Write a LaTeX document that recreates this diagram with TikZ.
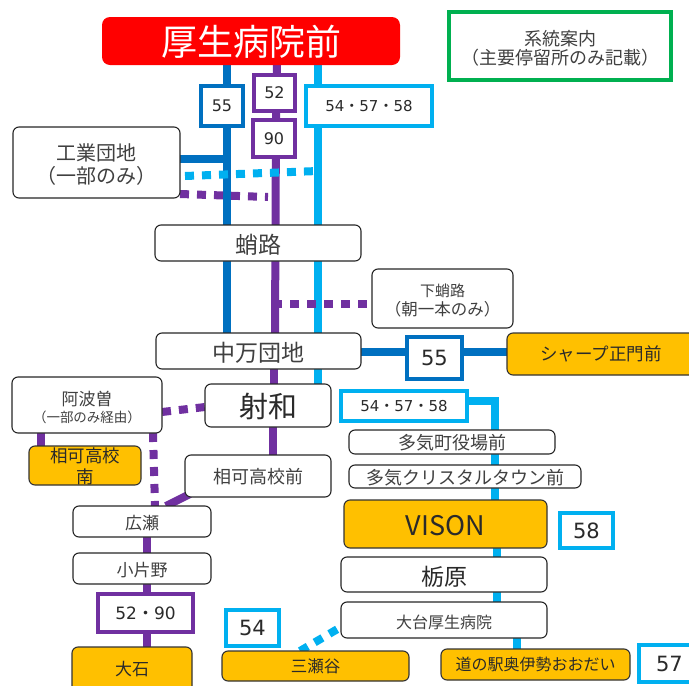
\documentclass[tikz,border=0pt]{standalone}
\usepackage{fontspec}
\setmainfont{Noto Sans CJK JP}
\newfontfamily\numfont{DejaVu Sans}
\usetikzlibrary{backgrounds}
\definecolor{cblue}{HTML}{0070C0}
\definecolor{cpurple}{HTML}{7030A0}
\definecolor{ccyan}{HTML}{00B0F0}
\definecolor{corange}{HTML}{FFC000}
\definecolor{cgreen}{HTML}{00B050}
\definecolor{ctext}{HTML}{404040}
\definecolor{cdark}{HTML}{2A2A2A}
\newcommand{\fs}[1]{\fontsize{#1}{#1}\selectfont}
\newcommand{\dt}{{\rmfamily ・}}
\newcommand{\dk}{\color{cdark}}
\newcommand{\tagfont}[1]{\numfont\color{cdark}\fs{#1}}
\newcommand{\bx}[8][-2]{%
  \pgfmathsetmacro{\bw}{#6-#4}\pgfmathsetmacro{\bh}{#7-#5}%
  \pgfmathsetmacro{\bcx}{(#6+#4)/2}\pgfmathsetmacro{\bcy}{(#7+#5)/2}%
  \node[#3,minimum width=\bw pt,minimum height=\bh pt,
        label={[yshift=#1pt]center:{#8}}] (#2) at (\bcx,\bcy) {};}
\tikzset{
  x=1pt,y=-1pt,
  every label/.style={inner sep=0pt,outer sep=0pt,align=center,text=ctext},
  base/.style={inner sep=0pt,outer sep=0pt},
  stopbox/.style={base,draw=black!85,line width=1.1pt,fill=white,rounded corners=6pt},
  endbox/.style={base,draw=black!80,line width=1.1pt,fill=corange,rounded corners=6pt},
  hospital/.style={base,fill=red,rounded corners=8pt},
  legendbox/.style={base,draw=cgreen,line width=4pt,fill=white},
  tagblue/.style={base,draw=cblue,line width=4pt,fill=white},
  tagpurple/.style={base,draw=cpurple,line width=4pt,fill=white},
  tagcyan/.style={base,draw=ccyan,line width=4pt,fill=white},
  lineblue/.style={draw=cblue,line width=8pt},
  linepurple/.style={draw=cpurple,line width=8pt},
  linecyan/.style={draw=ccyan,line width=8pt},
  dotpurple/.style={draw=cpurple,line width=8pt,dash pattern=on 9pt off 8pt},
  dotcyan/.style={draw=ccyan,line width=8pt,dash pattern=on 9pt off 8pt},
}
\begin{document}
\begin{tikzpicture}
\useasboundingbox (0,0) rectangle (689,686);
% stops
\bx[-1]{hosp}{hospital}{102}{17}{400}{65}{\color{white}\fs{36}厚生病院前}
\bx{legend}{legendbox}{449}{12}{671}{80}{\fs{18}系統案内\\[1pt]\fs{18}（主要停留所のみ記載）}
\bx{kogyo}{stopbox}{13}{127}{180}{198}{\fs{20}工業団地\\[4pt]\fs{20}（一部のみ）}
\bx{hiru}{stopbox}{155}{225}{361}{261}{\fs{23}蛸路}
\bx{shimo}{stopbox}{372}{269}{513}{328}{\fs{15}下蛸路\\[3pt]\fs{16.5}（朝一本のみ）}
\bx{naka}{stopbox}{156}{333}{361}{369}{\fs{23}中万団地}
\bx[0]{sharp}{endbox}{507}{333}{695}{375}{\dk\fs{17.5}シャープ正門前}
\bx[-1]{izawa}{stopbox}{205}{384}{331}{427}{\dk\fs{29}射和}
\bx{awaso}{stopbox}{12}{377}{162}{433}{\fs{17}阿波曽\\[3pt]\fs{13.5}（一部のみ経由）}
\bx[-1]{ominami}{endbox}{29}{446}{141}{485}{\dk\fs{17.5}相可高校\\[4pt]\dk\fs{17.5}南}
\bx[-1]{omae}{stopbox}{185}{455}{331}{497}{\fs{18}相可高校前}
\bx{hirose}{stopbox}{73}{506}{211}{537}{\fs{17}広瀬}
\bx{kotano}{stopbox}{73}{553}{211}{584}{\fs{17}小片野}
\bx[0]{oishi}{endbox}{72}{647}{192}{692}{\dk\fs{17}大石}
\bx[0]{misedani}{endbox}{222}{651}{409}{681}{\dk\fs{16.5}三瀬谷}
\bx[-1]{taki}{stopbox}{349}{430}{555}{454}{\fs{18}多気町役場前}
\bx[-1]{crystal}{stopbox}{349}{465}{581}{488}{\fs{18}多気クリスタルタウン前}
\bx{vison}{endbox}{344}{500}{547}{548}{\dk\fs{27}VISON}
\bx{tochi}{stopbox}{341}{557}{547}{592}{\dk\fs{23}栃原}
\bx{odai}{stopbox}{341}{602}{547}{638}{\fs{16}大台厚生病院}
\bx[0]{michi}{endbox}{441}{649}{630}{680}{\dk\fs{16}道の駅奥伊勢おおだい}
% route tags
\bx[0]{t55a}{tagblue}{201}{86}{243}{126}{\tagfont{16}55}
\bx[0]{t52}{tagpurple}{254}{75}{295}{111}{\tagfont{16}52}
\bx[0]{t90}{tagpurple}{253}{120}{295}{157}{\tagfont{16}90}
\bx[0]{tall}{tagcyan}{306}{86}{432}{126}{\tagfont{15}54\dt 57\dt 58}
\bx[0]{t55b}{tagblue}{407}{337}{462}{379}{\tagfont{21}55}
\bx[0]{tallb}{tagcyan}{341}{391}{467}{421}{\tagfont{15}54\dt 57\dt 58}
\bx[0]{t5290}{tagpurple}{98}{594}{193}{632}{\tagfont{17}52\dt 90}
\bx[0]{t54}{tagcyan}{226}{610}{279}{646}{\tagfont{21}54}
\bx[0]{t58}{tagcyan}{560}{513}{613}{548}{\tagfont{21}58}
\bx[0]{t57}{tagcyan}{639}{645}{700}{682}{\tagfont{21}57}
% free ends
\coordinate (jblue) at (227,159);
\coordinate (jcyan) at (318,171);
\coordinate (jpurple) at (268,197);
\coordinate (jhiru) at (273,304);
\coordinate (bend) at (495,401);
\begin{scope}[on background layer]
  \draw[lineblue] (hosp.south -| jblue) -- (naka.north -| jblue);
  \draw[lineblue] (kogyo.east |- jblue) -- (jblue);
  \draw[lineblue] (naka.east |- 0,352) -- (sharp.west |- 0,352);
  \draw[linepurple] (hosp.south -| 277,0) -- (t52.south -| 276,0) -- (t90.north -| 276,0) -- (naka.north -| 275,0);
  \draw[linepurple] (naka.south -| 274,0) -- (izawa.north -| 274,0);
  \draw[linepurple] (izawa.south -| 273,0) -- (omae.north -| 273,0);
  \draw[linepurple] (190,494) -- (166,506);
  \draw[linepurple] (hirose.south -| 147,0) -- (kotano.north -| 147,0);
  \draw[linepurple] (kotano.south -| 147,0) -- (oishi.north -| 147,0);
  \draw[linepurple] (awaso.south -| 41,0) -- (ominami.north -| 41,0);
  \draw[linecyan] (hosp.south -| jcyan) -- (izawa.north -| jcyan);
  \draw[linecyan] (tallb.east |- bend) -- (bend) -- (taki.north -| bend);
  \draw[linecyan] (taki.south -| bend) -- (crystal.north -| bend);
  \draw[linecyan] (crystal.south -| bend) -- (vison.north -| bend);
  \draw[linecyan] (vison.south -| 497,0) -- (tochi.north -| 497,0);
  \draw[linecyan] (tochi.south -| 497,0) -- (odai.north -| 497,0);
  \draw[linecyan] (odai.south -| 517,0) -- (michi.north -| 517,0);
  \draw[dotcyan] (185,176) -- (jcyan);
  \draw[dotpurple] (180,194) -- (jpurple);
  \draw[dotpurple] (jhiru) -- (shimo.west |- jhiru);
  \draw[dotpurple] (awaso.east |- 0,412) -- (izawa.west |- 0,407);
  \draw[dotpurple] (awaso.south -| 153,0) -- (hirose.north -| 155,0);
  \draw[dotcyan] (misedani.north -| 300,0) -- (odai.west |- 0,627);
\end{scope}
\end{tikzpicture}
\end{document}
